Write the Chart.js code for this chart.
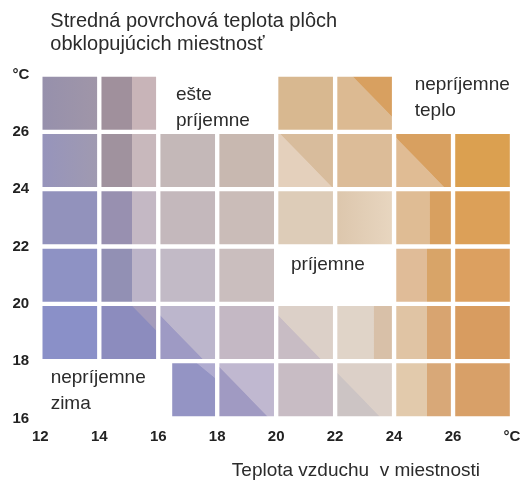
<!DOCTYPE html>
<html>
<head>
<meta charset="utf-8">
<script src="https://cdn.jsdelivr.net/npm/chart.js@4/dist/chart.umd.min.js"></script>
<style>
  body { margin: 0; background: #fff; }
  #wrap { width: 521px; height: 481px; }
</style>
</head>
<body>
<div id="wrap"><canvas id="chart"></canvas></div>
<script>
// -----------------------------
// Data
// -----------------------------
const airEdges = [12, 14, 16, 18, 20, 22, 24, 26, 28];      // teplota vzduchu (x), hranice stĺpcov
const surfEdges = [16, 18, 20, 22, 24, 26, 28];             // povrchová teplota (y), hranice riadkov
const tickStep = 2;
const unitLabel = '°C';

// prázdne (biele) zóny pre popisy: [spodok riadku, od x, do x]
const blankZones = [[26, 16, 20], [26, 24, 28], [20, 20, 24], [16, 12, 16.4]];

const zoneTexts = [['ešte', 'príjemne'], ['nepríjemne', 'teplo'], ['príjemne'], ['nepríjemne', 'zima']];
const zoneAnchors = [[16.6, 27.11], [24.7, 27.46], [20.5, 21.18], [12.35, 17.25]];

const titleLines = ['Stredná povrchová teplota plôch', 'obklopujúcich miestnosť'];
const xTitle = 'Teplota vzduchu  v miestnosti';

// -----------------------------
// Farby buniek (riadky zhora nadol, stĺpce zľava)
// [farba A, farba B, režim, zlom]
// -----------------------------
const shades = [
  [['#9690ac', '#a096a8', 'h'], ['#a0909c', '#c8b4b8', 'v', 0.55], null, null,
   ['#d8b890'], ['#dcba92', '#d8a060', 'd', 0.62], null, null],
  [['#9694bc', '#a09ab0', 'h'], ['#a0929e', '#c8b8bc', 'v', 0.55], ['#c4b8b8'], ['#c8b8b0'],
   ['#e4d0bc', '#d8bc9c', 'd', 0.5], ['#dcbc98'], ['#e0bc94', '#d8a060', 'd', 0.45], ['#dba050']],
  [['#9292bc'], ['#9890b0', '#c4b8c4', 'v', 0.55], ['#c4b8bc'], ['#cabcb8'],
   ['#ddccb8'], ['#dcc6ac', '#e8d6c0', 'h'], ['#dfbc94', '#d8a060', 'v', 0.6], ['#dca058']],
  [['#8e92c4'], ['#9290b4', '#bcb4c8', 'v', 0.55], ['#c2bac6'], ['#cabebe'],
   null, null, ['#e0bc98', '#d8a468', 'v', 0.55], ['#dca060']],
  [['#8a90c8'], ['#8c8cbe', '#a49cbc', 'd', 0.75], ['#9e9ac4', '#bcb6cc', 'd', 0.4], ['#c4b8c4'],
   ['#c8bcc4', '#dcd0c8', 'd', 0.4], ['#e0d4c8', '#d8c0a8', 'v', 0.65], ['#e0c4a4', '#d8a470', 'v', 0.55], ['#d89c60']],
  [null, null, ['#9494c4', '#b0acd0', 'd', 0.8], ['#a09ac2', '#c0b8d0', 'd', 0.45],
   ['#c8bcc4'], ['#ccc4c4', '#dcd0c8', 'd', 0.4], ['#e2caac', '#d8a878', 'v', 0.55], ['#d8a068']]
];

// -----------------------------
// Zostavenie buniek
// -----------------------------
const cells = [];
for (let r = 0; r < surfEdges.length - 1; r++) {
  const lo = surfEdges[r], hi = surfEdges[r + 1];
  const row = surfEdges.length - 2 - r;   // index v tabuľke farieb (zhora)
  for (let c = 0; c < airEdges.length - 1; c++) {
    let x0 = airEdges[c], x1 = airEdges[c + 1];
    blankZones.forEach(z => {
      if (z[0] !== lo) return;
      if (z[1] <= x0 && z[2] >= x1) { x0 = x1; return; }
      if (z[1] <= x0 && z[2] > x0) x0 = z[2];
      if (z[2] >= x1 && z[1] < x1) x1 = z[1];
    });
    if (x1 - x0 <= 0) continue;
    cells.push({ x: [x0, x1], y: (lo + hi) / 2, lo: lo, hi: hi, row: row, col: c });
  }
}

function cellFill(ctx) {
  const d = ctx.raw;
  if (!d || d.row === undefined) return '#ccc';
  const s = shades[d.row][d.col];
  if (!s) return '#ccc';
  if (s.length === 1) return s[0];
  const xs = ctx.chart.scales.x, ys = ctx.chart.scales.y;
  if (!xs || !ys) return s[0];
  const x0 = xs.getPixelForValue(d.x[0]), x1 = xs.getPixelForValue(d.x[1]);
  const top = ys.getPixelForValue(d.hi), bottom = ys.getPixelForValue(d.lo);
  if (![x0, x1, top, bottom].every(Number.isFinite)) return s[0];
  const g2d = ctx.chart.ctx;
  let g;
  if (s[2] === 'd') g = g2d.createLinearGradient(x0, bottom, x1, top);
  else g = g2d.createLinearGradient(x0, 0, x1, 0);
  if (s[2] === 'h') {
    g.addColorStop(0, s[0]);
    g.addColorStop(1, s[1]);
  } else {
    g.addColorStop(0, s[0]);
    g.addColorStop(s[3], s[0]);
    g.addColorStop(Math.min(1, s[3] + 0.01), s[1]);
    g.addColorStop(1, s[1]);
  }
  return g;
}

// -----------------------------
// Popisy (nadpis, os x, zóny)
// -----------------------------
const textPlugin = {
  id: 'texts',
  afterDraw(chart) {
    const g = chart.ctx;
    const xs = chart.scales.x, ys = chart.scales.y;
    g.save();
    g.fillStyle = '#2b2b2b';
    g.textBaseline = 'alphabetic';
    g.textAlign = 'left';
    g.font = '20px "Liberation Sans", Arial, sans-serif';
    titleLines.forEach((t, i) => g.fillText(t, chart.chartArea.left + 10, 27 + i * 23));
    g.font = '19px "Liberation Sans", Arial, sans-serif';
    g.textAlign = 'right';
    g.fillText(xTitle, chart.chartArea.right - 32, 476);
    g.textAlign = 'left';
    zoneTexts.forEach((lines, i) => {
      const x = xs.getPixelForValue(zoneAnchors[i][0]);
      const y = ys.getPixelForValue(zoneAnchors[i][1]);
      lines.forEach((t, j) => g.fillText(t, x, y + j * 26));
    });
    g.restore();
  }
};

// -----------------------------
// Chart.js
// -----------------------------
const tickFont = { family: '"Liberation Sans", Arial, sans-serif', size: 15, weight: 'bold' };

new Chart(document.getElementById('chart'), {
  type: 'bar',
  data: {
    datasets: [{
      data: cells,
      backgroundColor: cellFill,
      borderColor: '#ffffff',
      borderWidth: 2.5,
      borderSkipped: false,
      barPercentage: 1,
      categoryPercentage: 1
    }]
  },
  options: {
    indexAxis: 'y',
    responsive: true,
    maintainAspectRatio: false,
    animation: false,
    events: [],
    layout: { padding: { top: 74.5, left: 12.5, right: 9, bottom: 25.5 } },
    plugins: { legend: { display: false }, tooltip: { enabled: false }, title: { display: false } },
    scales: {
      x: {
        type: 'linear', position: 'bottom', min: airEdges[0], max: airEdges[airEdges.length - 1],
        offset: false,
        grid: { display: false, drawTicks: false }, border: { display: false },
        ticks: {
          stepSize: tickStep, padding: 0, color: '#222', maxRotation: 0,
          font: Object.assign({}, tickFont, { lineHeight: '37px' }),
          callback: v => v === airEdges[airEdges.length - 1] ? unitLabel : v
        }
      },
      y: {
        type: 'linear', min: surfEdges[0], max: surfEdges[surfEdges.length - 1],
        offset: false,
        grid: { display: false, drawTicks: false }, border: { display: false },
        ticks: {
          stepSize: tickStep, padding: 5.5, crossAlign: 'far', color: '#222', font: tickFont,
          callback: v => v === surfEdges[surfEdges.length - 1] ? unitLabel : v
        }
      }
    }
  },
  plugins: [textPlugin]
});
</script>
</body>
</html>
